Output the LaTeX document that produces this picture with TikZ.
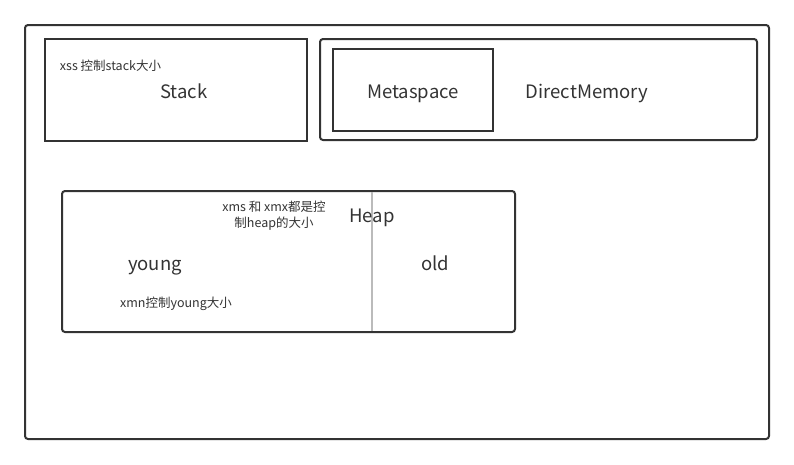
\documentclass[tikz,border=0pt]{standalone}
\usepackage{fontspec}
\setmainfont{Noto Sans CJK SC}
\definecolor{ink}{HTML}{333333}
\definecolor{sep}{HTML}{BBBBBB}
\tikzset{
  box/.style={draw=ink,line width=2pt},
  rbox/.style={box,rounded corners=3pt},
  big/.style={text=ink,font=\fontsize{18.5}{22}\selectfont,inner sep=0pt,anchor=base},
  small/.style={text=ink,font=\fontsize{12.5}{15.5}\selectfont,inner sep=0pt,align=center},
}
\begin{document}
\begin{tikzpicture}[x=1pt,y=-1pt]
\useasboundingbox (0,0) rectangle (794,464);
\draw[rbox] (25,25) rectangle (769,439);
% stack
\draw[box] (45,39) rectangle (307,141);
\node[small,anchor=base] (xss) at (110.5,70) {xss 控制stack大小};
\node[big] (stack) at (184,98) {Stack};
% non-heap
\draw[rbox] (320,39) rectangle (757,140);
\draw[box] (333,49) rectangle (493,131);
\node[big] (meta) at (413,98) {Metaspace};
\node[big] (direct) at (587,98) {DirectMemory};
% heap
\draw[rbox] (62,191) rectangle (515,332);
\draw[sep,line width=1.5pt] (372,192) -- (372,331);
\node[big] (heap) at (372,222) {Heap};
\node[small] (xms) at (274,215.5) {xms 和 xmx都是控\\制heap的大小};
\node[big] (young) at (155,270) {young};
\node[big] (old) at (435,270) {old};
\node[small,anchor=base] (xmn) at (176,307) {xmn控制young大小};
\end{tikzpicture}
\end{document}
